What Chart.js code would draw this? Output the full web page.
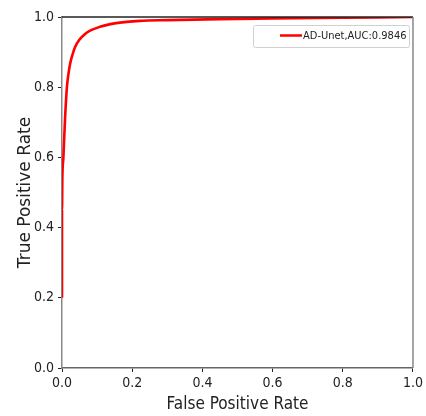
<!DOCTYPE html>
<html>
<head>
<meta charset="utf-8">
<script src="https://cdn.jsdelivr.net/npm/chart.js@4/dist/chart.umd.min.js"></script>
<style>
html,body{margin:0;padding:0;background:#fff;}
canvas{display:block;}
</style>
</head>
<body>
<canvas id="c" width="426" height="416"></canvas>
<script>
// ROC curve data
const seriesLabel = 'AD-Unet,AUC:0.9846';
const fpr = [0, 0, 0.001, 0.004, 0.0085, 0.014, 0.018, 0.023, 0.030, 0.037, 0.051, 0.065, 0.08, 0.108, 0.135, 0.165, 0.222, 0.3, 0.45, 0.6, 0.8, 1.0];
const tpr = [0.2, 0.45, 0.54, 0.60, 0.707, 0.80, 0.835, 0.866, 0.893, 0.914, 0.937, 0.951, 0.961, 0.972, 0.979, 0.984, 0.989, 0.991, 0.994, 0.996, 0.998, 1.0];
const xTicks = [0, 0.2, 0.4, 0.6, 0.8, 1.0];
const yTicks = [0, 0.2, 0.4, 0.6, 0.8, 1.0];

const condensed = "'DejaVu Sans Condensed', 'Liberation Sans Narrow', 'DejaVu Sans', sans-serif";
const regular = "'DejaVu Sans', sans-serif";

const extras = {
  id: 'extras',
  afterDraw(chart) {
    const {ctx, chartArea: a} = chart;
    ctx.save();
    // top and right spines
    ctx.lineWidth = 1.5;
    ctx.strokeStyle = '#222';
    ctx.beginPath(); ctx.moveTo(a.left, a.top); ctx.lineTo(a.right, a.top); ctx.stroke();
    ctx.strokeStyle = '#888';
    ctx.beginPath(); ctx.moveTo(a.right, a.top); ctx.lineTo(a.right, a.bottom); ctx.stroke();
    // legend
    const bx = 253.5, by = 25.5, bw = 156, bh = 22;
    ctx.fillStyle = '#fff';
    ctx.strokeStyle = '#d0d0d0';
    ctx.lineWidth = 1;
    ctx.beginPath();
    if (ctx.roundRect) ctx.roundRect(bx, by, bw, bh, 2); else ctx.rect(bx, by, bw, bh);
    ctx.fill(); ctx.stroke();
    ctx.strokeStyle = '#ff0000';
    ctx.lineWidth = 2.5;
    ctx.beginPath(); ctx.moveTo(280, 35.5); ctx.lineTo(302, 35.5); ctx.stroke();
    ctx.fillStyle = '#222';
    ctx.font = "11px " + condensed;
    ctx.textBaseline = 'middle';
    ctx.textAlign = 'left';
    ctx.fillText(seriesLabel, 303, 36);
    ctx.restore();
  }
};

new Chart(document.getElementById('c'), {
  type: 'scatter',
  data: {
    datasets: [{
      label: seriesLabel,
      data: fpr.map((x, i) => ({x: x, y: tpr[i]})),
      showLine: true,
      borderColor: '#ff0000',
      borderWidth: 2.6,
      pointRadius: 0,
      cubicInterpolationMode: 'monotone',
      fill: false
    }]
  },
  options: {
    responsive: false,
    animation: false,
    layout: {padding: {top: 17, right: 12, left: 0, bottom: 0}},
    plugins: {legend: {display: false}, tooltip: {enabled: false}},
    scales: {
      x: {
        type: 'linear', min: 0, max: 1,
        afterBuildTicks: s => { s.ticks = xTicks.map(v => ({value: v})); },
        ticks: {callback: v => Number(v).toFixed(1), color: '#222', font: {family: condensed, size: 14}, padding: 3, maxRotation: 0, autoSkip: false},
        grid: {drawOnChartArea: false, drawTicks: true, tickLength: 4, tickColor: '#222', tickWidth: 1},
        border: {color: '#666', width: 1.5},
        title: {display: true, text: 'False Positive Rate', color: '#222', font: {family: condensed, size: 17}, padding: {top: 0, bottom: 1}},
        afterFit: s => { s.height = 48; }
      },
      y: {
        type: 'linear', min: 0, max: 1,
        afterBuildTicks: s => { s.ticks = yTicks.map(v => ({value: v})); },
        ticks: {callback: v => Number(v).toFixed(1), color: '#222', font: {family: condensed, size: 14}, padding: 4, autoSkip: false},
        grid: {drawOnChartArea: false, drawTicks: true, tickLength: 4, tickColor: '#222', tickWidth: 1},
        border: {color: '#888', width: 1.5},
        title: {display: true, text: 'True Positive Rate', color: '#222', font: {family: regular, size: 17}, padding: {top: 15, bottom: 0}},
        afterFit: s => { s.width = 62; }
      }
    }
  },
  plugins: [extras]
});
</script>
</body>
</html>
